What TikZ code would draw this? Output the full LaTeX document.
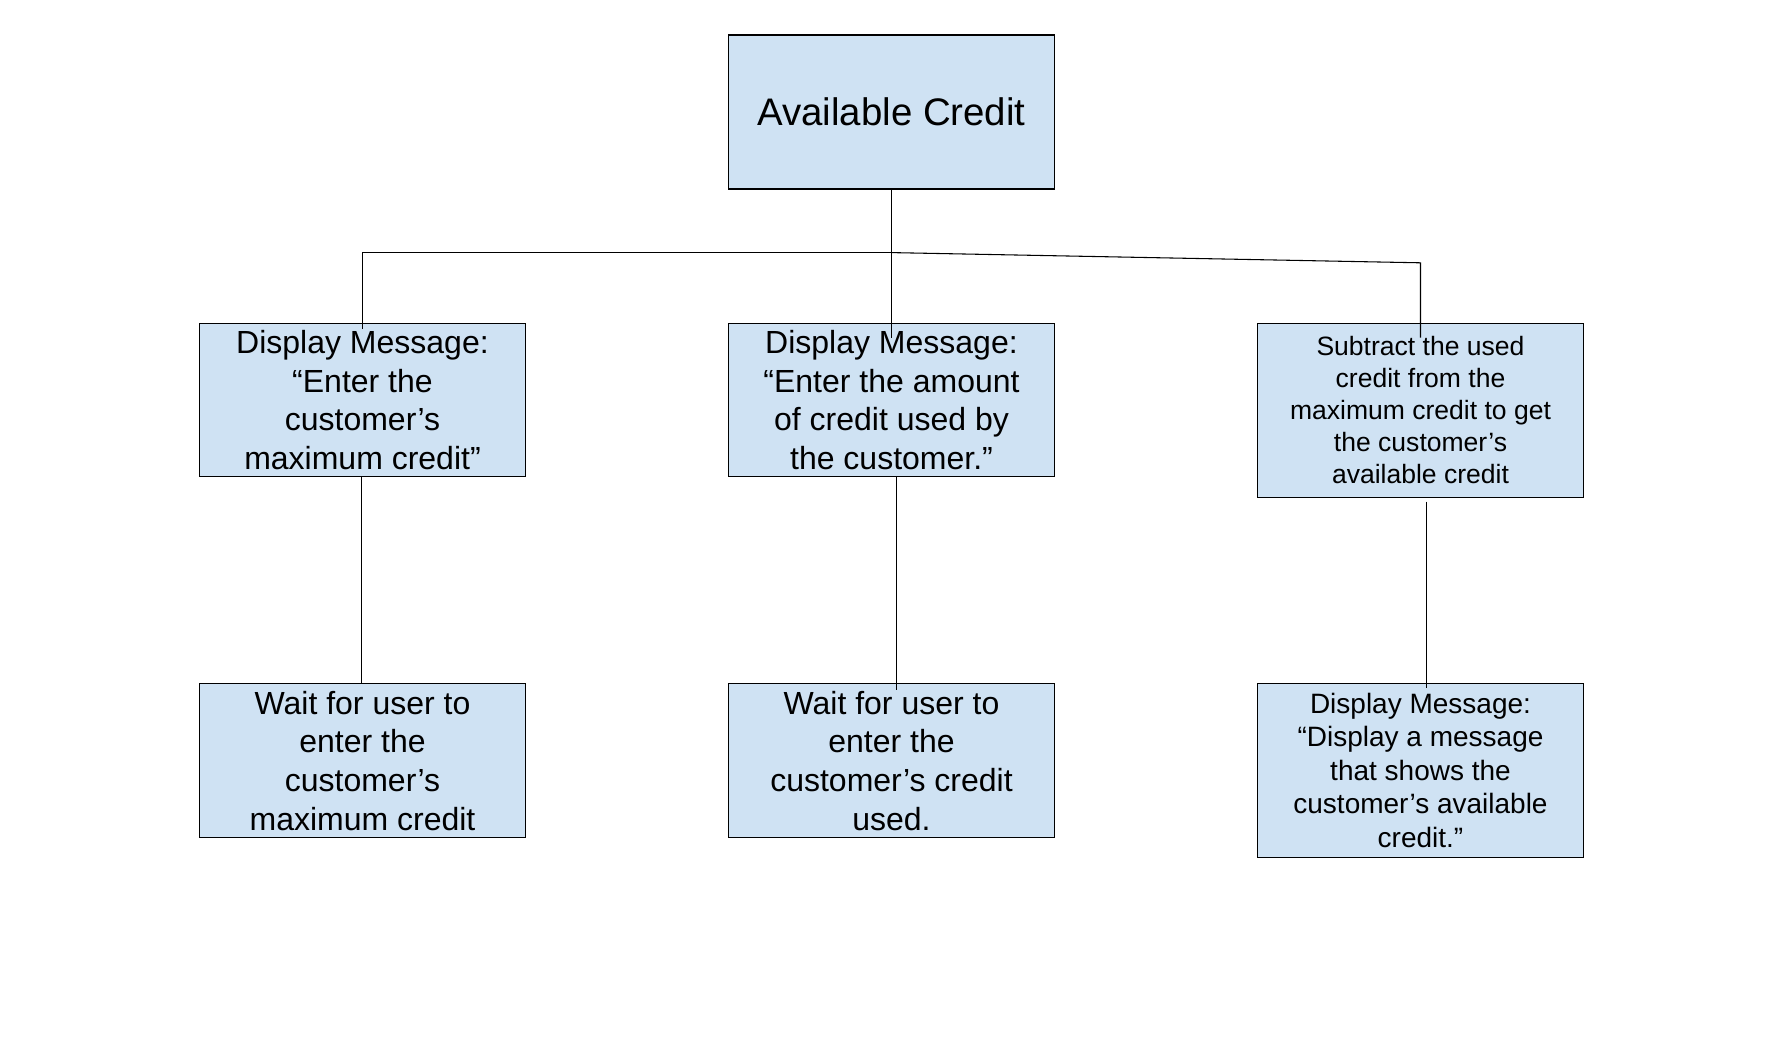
\documentclass[tikz,border=0pt]{standalone}
\usepackage{fontspec}
\setmainfont{Liberation Sans}
\usetikzlibrary{calc}
\definecolor{boxblue}{HTML}{CFE2F3}
\tikzset{
  box/.style={draw=black, fill=boxblue, line width=0.8pt, align=center,
    minimum width=245pt, minimum height=115.2pt, inner sep=0pt, text=black},
  tallbox/.style={box, minimum height=130.5pt},
  big/.style={font=\fontsize{28.8}{34}\selectfont},
  mid/.style={font=\fontsize{24}{29}\selectfont},
  small/.style={font=\fontsize{19.9}{23.9}\selectfont},
  smallb/.style={font=\fontsize{21}{25.2}\selectfont},
  conn/.style={draw=black, line width=0.8pt}
}
\begin{document}
\begin{tikzpicture}[x=0.75pt,y=-0.75pt]
\useasboundingbox[fill=white] (0,0) rectangle (1784,1060);
\node[box, big, minimum height=115.5pt] (top) at (891.5,112) {Available Credit};
\node[box, mid] (l1) at (362.5,399.9) {Display Message:\\“Enter the\\customer’s\\maximum credit”};
\node[box, mid] (m1) at (891.5,399.9) {Display Message:\\“Enter the amount\\of credit used by\\the customer.”};
\node[tallbox, small] (r1) at (1420.5,410.2) {Subtract the used\\credit from the\\maximum credit to get\\the customer’s\\available credit};
\node[box, mid] (l2) at (362.5,760.6) {Wait for user to\\enter the\\customer’s\\maximum credit};
\node[box, mid] (m2) at (891.5,760.6) {Wait for user to\\enter the\\customer’s credit\\used.};
\node[tallbox, smallb] (r2) at (1420.5,770.3) {Display Message:\\“Display a message\\that shows the\\customer’s available\\credit.”};
\coordinate (j) at (891.5,252.6);
\coordinate (jl) at (362.5,252.6);
\coordinate (jr) at (1420.5,262.8);
\draw[conn] (top.south) -- (j) -- ($(m1.north)+(0,15)$);
\draw[conn] (j) -- (jl) -- ($(l1.north)+(0,6)$);
\draw[conn] (j) -- (jr) -- ($(r1.north)+(0,15)$);
\draw[conn] ($(l1.south)+(-0.7,0)$) -- ($(l2.north)+(-0.7,0)$);
\draw[conn] ($(m1.south)+(5,0)$) -- ($(m2.north)+(5,7)$);
\draw[conn] ($(r1.south)+(6.3,4)$) -- ($(r2.north)+(6.3,5)$);
\end{tikzpicture}
\end{document}
